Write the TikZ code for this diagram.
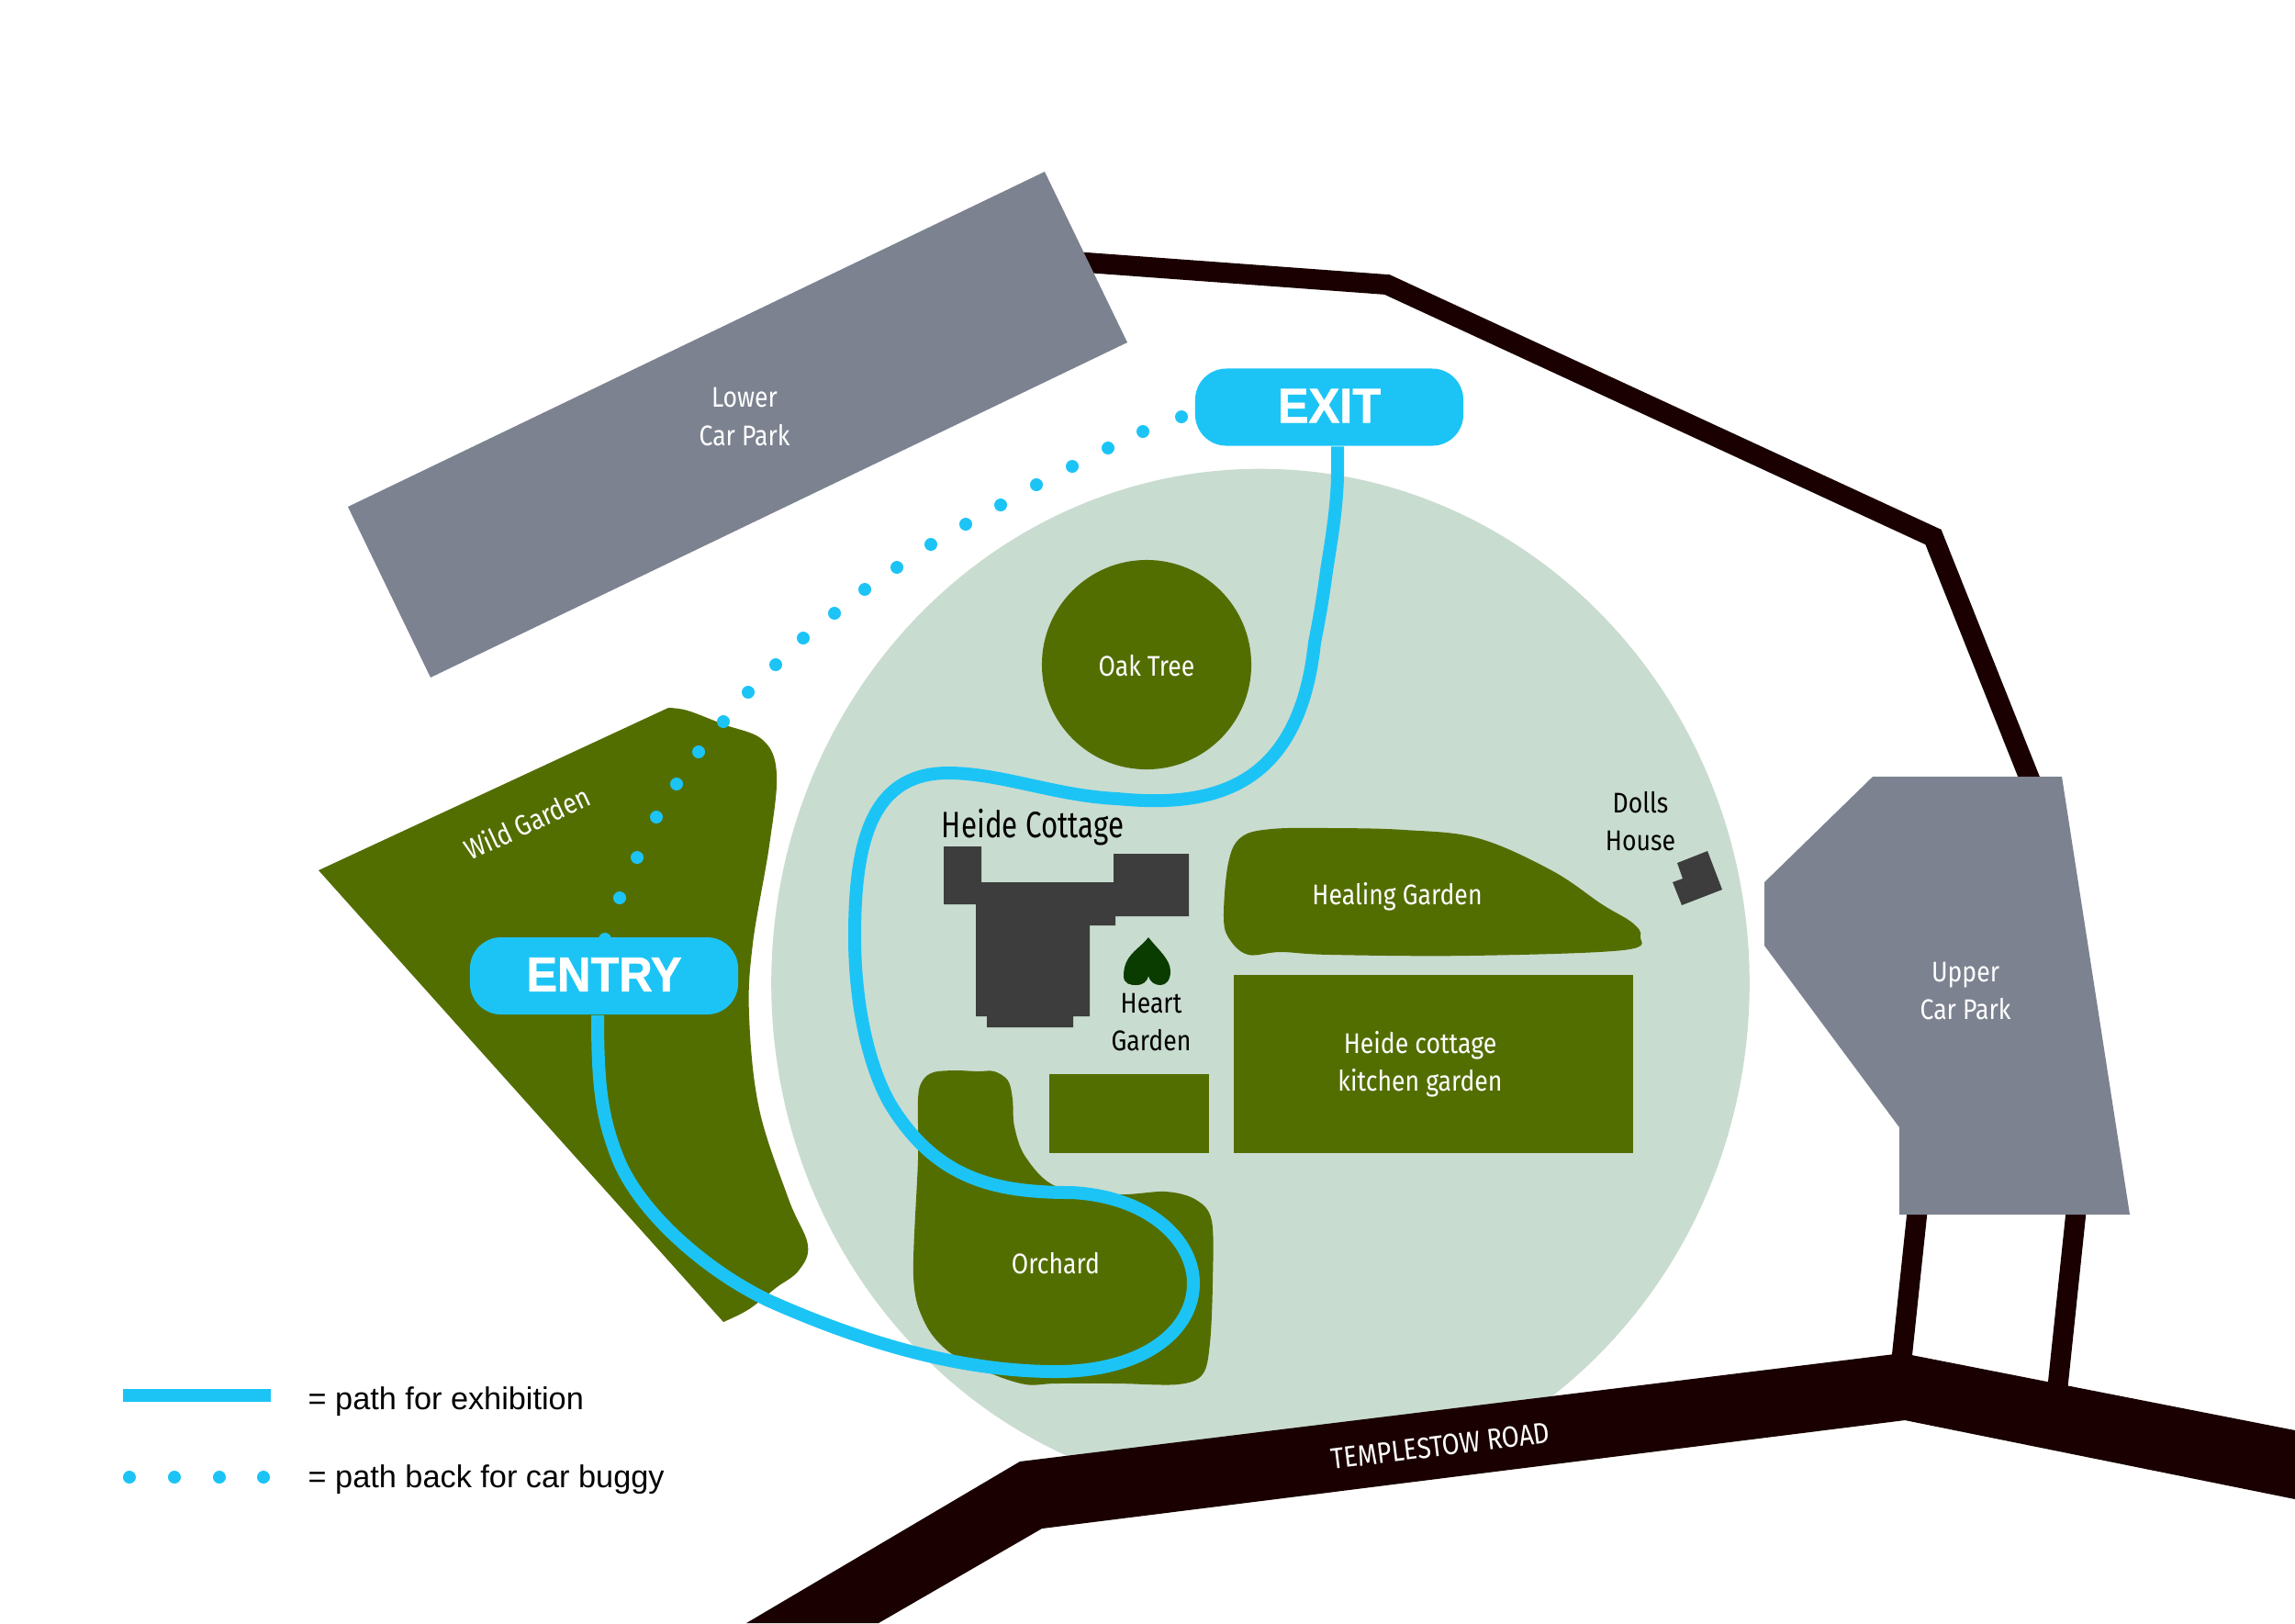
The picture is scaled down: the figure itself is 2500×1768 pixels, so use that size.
\documentclass[tikz,border=0pt]{standalone}
\usepackage{fontspec}
\setmainfont{Liberation Sans}
\newfontfamily\din[FakeStretch=0.86]{Fira Sans}
\newfontfamily\dinnarrow[FakeStretch=0.78]{Fira Sans}
\newfontfamily\boldsign[FakeStretch=0.95,FakeBold=1.2]{Liberation Sans Bold}
\definecolor{lawn}{HTML}{536E00}
\definecolor{grounds}{HTML}{C9DCD0}
\definecolor{route}{HTML}{1CC4F6}
\definecolor{parking}{HTML}{7C8290}
\definecolor{roadc}{HTML}{1A0000}
\definecolor{house}{HTML}{3D3D3D}
\definecolor{heartc}{HTML}{0A3C00}
\tikzset{
  x=0.01cm,y=-0.01cm,
  garden/.style={fill=lawn},
  park/.style={fill=parking},
  building/.style={fill=house},
  driveway/.style={draw=roadc,line width=0.22cm,miter limit=10},
  routeline/.style={draw=route,line width=0.14cm},
  routedot/.style={fill=route},
  sign/.style={fill=route,rounded corners=0.34cm,minimum width=2.92cm,minimum height=0.84cm,inner sep=0pt,text=white,text depth=0.03cm,font=\boldsign\fontsize{15.1}{18}\selectfont},
  lbl/.style={align=center,inner sep=0pt,font=\din\fontsize{8.8}{11.66}\selectfont},
  wlbl/.style={lbl,text=white},
  legend/.style={anchor=west,inner sep=0pt,font=\fontsize{9.75}{12}\selectfont},
}
\begin{document}
\begin{tikzpicture}
\useasboundingbox (0,0) rectangle (2500,1768);
\clip (0,0) rectangle (2500,1768);
\fill[white] (0,0) rectangle (2500,1768);
% grounds
\fill[grounds] (1373,1071) ellipse [x radius=5.325cm,y radius=5.6cm];
% driveways
\draw[driveway] (1170,285) -- (1511,310) -- (2106,585) -- (2214,856);
\draw[driveway] (2089,1315) -- (2071,1485);
\draw[driveway] (2262,1315) -- (2241,1515);
\fill[roadc] (813,1768) -- (1111,1592) -- (2072,1474) -- (2500,1558) -- (2500,1633) -- (2075,1547) -- (1135,1665) -- (957,1768) -- cycle;
% car parks
\fill[park] (1138,187) -- (1228,373) -- (469,738) -- (379,552) -- cycle;
\fill[park] (2040,846) -- (2246,846) -- (2320,1323) -- (2069,1323) -- (2069,1228) -- (1922,1030) -- (1922,961) -- cycle;
% wild garden
\fill[garden] (347,948) -- plot[smooth,tension=0.6] coordinates {(728,771) (749,774) (788,789) (831,806) (846,843) (838,921) (820,1028) (816,1106) (827,1208) (859,1306) (880,1356) (870,1384) (845,1403) (816,1426) (788,1440)} -- cycle;
% oak
\fill[garden] (1249,724) circle [radius=1.14cm];
% orchard
\fill[garden] plot[smooth cycle,tension=0.55] coordinates {(1000,1197) (1005,1177) (1017,1168) (1040,1166) (1065,1167) (1083,1167) (1098,1177) (1103,1197) (1105,1227) (1117,1260) (1150,1292) (1217,1301) (1270,1298) (1303,1307) (1320,1330) (1321,1397) (1318,1463) (1310,1497) (1283,1508) (1217,1507) (1150,1507) (1117,1508) (1077,1495) (1033,1472) (1007,1440) (995,1390) (1000,1263)};
% healing
\fill[garden] plot[smooth cycle,tension=0.6] coordinates {(1333,1000) (1338,940) (1352,912) (1385,903) (1450,902) (1530,904) (1610,913) (1690,948) (1745,985) (1778,1005) (1787,1020) (1768,1035) (1600,1041) (1450,1040) (1395,1037) (1360,1040) (1340,1024)};
% rectangles
\fill[garden] (1143,1170) rectangle (1317,1256);
\fill[garden] (1344,1062) rectangle (1779,1256);
% cottage
\fill[building] (1028,922) -- (1069,922) -- (1069,961) -- (1213,961) -- (1213,930) -- (1295,930) -- (1295,998) -- (1215,998) -- (1215,1008) -- (1187,1008) -- (1187,1107) -- (1169,1107) -- (1169,1119) -- (1075,1119) -- (1075,1107) -- (1063,1107) -- (1063,985) -- (1028,985) -- cycle;
% dolls house
\fill[building] (1860,927) -- (1876,969) -- (1832,986) -- (1822,961) -- (1833,957) -- (1827,940) -- cycle;
% heart
\fill[heartc] (1251,1021) .. controls (1240,1035) and (1224,1040) .. (1224,1063) .. controls (1224,1072) and (1232,1073) .. (1237,1073) .. controls (1245,1073) and (1249,1070) .. (1251,1063) .. controls (1253,1070) and (1258,1073) .. (1264,1073) .. controls (1270,1073) and (1275,1068) .. (1275,1058) .. controls (1275,1045) and (1262,1035) .. (1251,1021) -- cycle;
% dots
\foreach \px/\py in {659/1023,675/978,694/934,715/890,737/854,761/819,788/786,815/754,845/724,875/695,909/668,942/642,977/618,1014/593,1052/571,1090/550,1129/528,1168/508,1207/488,1245/470,1287/454}
  \fill[routedot] (\px,\py) circle [radius=0.07cm];
% route and signs
\node[sign] (entry) at (658,1063) {ENTRY};
\node[sign] (exit) at (1448,443.5) {EXIT};
\draw[routeline] ([xshift=-0.07cm]entry.south)
  .. controls (651,1180) and (655,1215) .. (672,1259)
  .. controls (695,1320) and (770,1385) .. (838,1417)
  .. controls (930,1458) and (1040,1494) .. (1150,1494)
  .. controls (1245,1494) and (1300,1450) .. (1300,1398)
  .. controls (1300,1350) and (1250,1303) .. (1167,1299)
  .. controls (1085,1299) and (1020,1285) .. (970,1203)
  .. controls (945,1160) and (931,1090) .. (931,1020)
  .. controls (931,915) and (950,842) .. (1033,842)
  .. controls (1090,842) and (1150,867) .. (1217,870)
  .. controls (1320,880) and (1415,860) .. (1432,700)
  .. controls (1438,670) and (1442,645) .. (1445,622)
  .. controls (1450,590) and (1457,550) .. (1457,513)
  -- ([xshift=0.09cm]exit.south);
% labels
\node[wlbl] (lower) at (811,454) {Lower\\Car Park};
\node[wlbl] (upper) at (2141,1079) {Upper\\Car Park};
\node[wlbl] (oak) at (1249,725) {Oak Tree};
\node[wlbl] (healing) at (1522,977) {Healing Garden};
\node[wlbl] (kitchen) at (1547,1159) {Heide cottage\\kitchen garden};
\node[wlbl] (orchard) at (1150,1376) {Orchard};
\node[lbl] (cottage) at (1125,901) {\dinnarrow\fontsize{11.4}{14}\selectfont Heide Cottage};
\node[lbl] (heart) at (1254,1113) {Heart\\Garden};
\node[lbl] (dolls) at (1787,895) {Dolls\\House};
\node[wlbl,rotate=25] (wild) at (574,896) {Wild Garden};
\node[wlbl,rotate=7,font=\din\fontsize{9.1}{11}\selectfont] (road) at (1569,1575) {TEMPLESTOW ROAD};
% legend
\coordinate (la) at (134,1520);
\coordinate (lb) at (295,1520);
\draw[draw=route,line width=0.14cm] (la) -- (lb);
\node[legend] (l1) at (335,1527) {= path for exhibition};
\foreach \px in {141,190,239,287}
  \fill[routedot] (\px,1609) circle [radius=0.07cm];
\node[legend] (l2) at (335,1612) {= path back for car buggy};
\end{tikzpicture}
\end{document}
